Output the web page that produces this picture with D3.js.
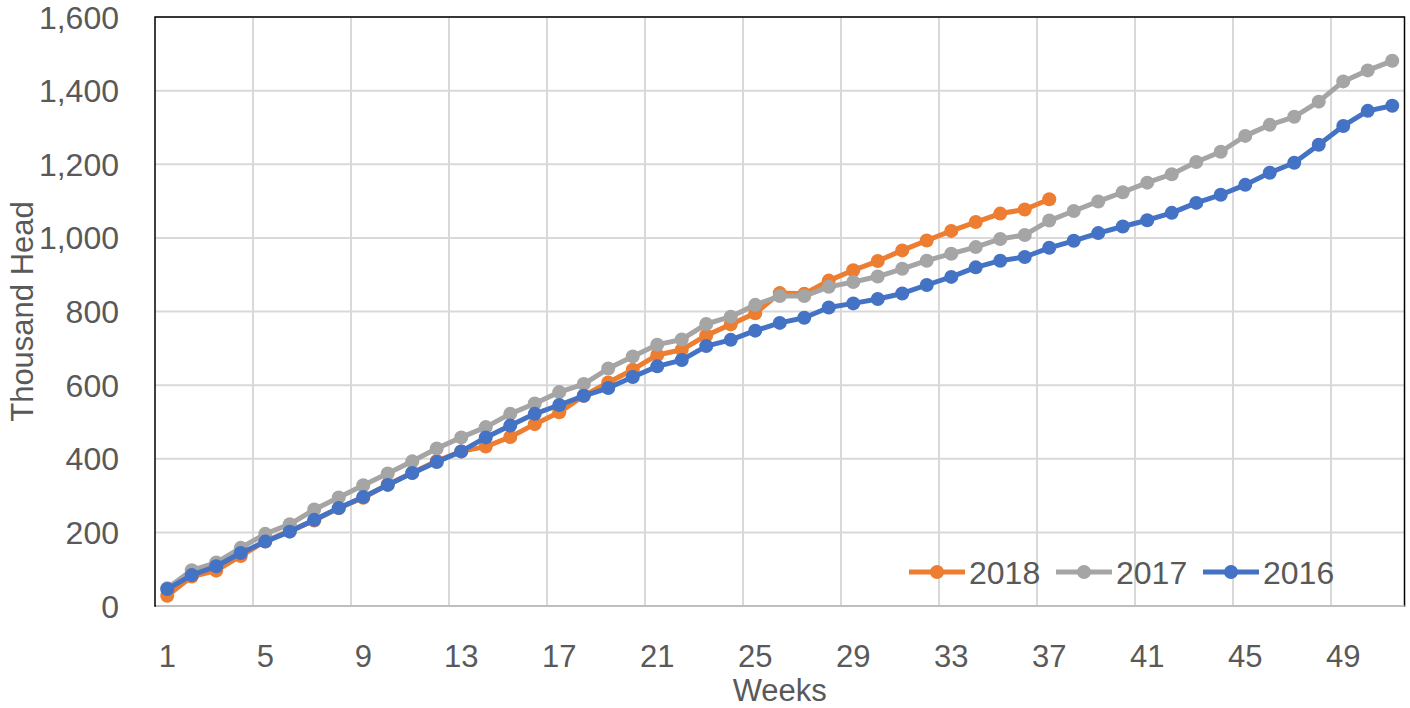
<!DOCTYPE html>
<html>
<head>
<meta charset="utf-8">
<script src="https://cdn.jsdelivr.net/npm/d3@7"></script>
<style>
body { margin: 0; background: #fff; }
text { font-family: "Liberation Sans", Arial, sans-serif; fill: #595959; }
</style>
</head>
<body>
<svg width="1410" height="708"></svg>
<script>
var weeks = d3.range(1, 52);

var s2018 = [28, 80, 96, 136, 176, 204, 232, 266, 294, 330, 362, 394, 420, 433, 459, 494, 526, 571, 607, 642,
	682, 696, 735, 765, 795, 850, 848, 884, 912, 937, 966, 993, 1019, 1043, 1066, 1077, 1105];

var s2017 = [48, 97, 118, 158, 196, 222, 262, 295, 328, 360, 393, 428, 458, 486, 522, 550, 581, 603, 645, 678,
	710, 724, 766, 786, 818, 842, 842, 867, 880, 895, 916, 938, 957, 975, 997, 1008, 1047, 1073, 1099, 1124,
	1150, 1173, 1206, 1234, 1277, 1307, 1329, 1370, 1425, 1455, 1481];

var s2016 = [46, 84, 108, 144, 175, 202, 234, 266, 296, 329, 361, 391, 420, 458, 490, 522, 546, 571, 592, 622,
	651, 668, 706, 723, 748, 769, 783, 811, 822, 834, 849, 872, 894, 920, 938, 948, 973, 992, 1013, 1031,
	1048, 1068, 1095, 1117, 1144, 1177, 1204, 1253, 1304, 1345, 1359];

var seriesNames = ["2018", "2017", "2016"];
var seriesColors = ["#ED7D31", "#A5A5A5", "#4472C4"];
var yTicks = [0, 200, 400, 600, 800, 1000, 1200, 1400, 1600];
var xTickLabels = [1, 5, 9, 13, 17, 21, 25, 29, 33, 37, 41, 45, 49];

var svg = d3.select("svg"),
	plotLeft = 155, plotRight = 1404.5, plotTop = 17, plotBottom = 606;

var x = d3.scaleBand().domain(weeks).range([plotLeft, plotRight]).padding(0);
var y = d3.scaleLinear().domain([0, 1600]).range([plotBottom, plotTop]);
var cx = function(w) { return x(w) + x.bandwidth() / 2; };

// gridlines
svg.append("g").selectAll("line")
	.data(yTicks.slice(1))
	.enter().append("line")
	.attr("x1", plotLeft).attr("x2", plotRight)
	.attr("y1", function(d) { return y(d); }).attr("y2", function(d) { return y(d); })
	.attr("stroke", "#D9D9D9").attr("stroke-width", 2);

svg.append("g").selectAll("line")
	.data(xTickLabels.slice(1))
	.enter().append("line")
	.attr("x1", function(d) { return x(d); }).attr("x2", function(d) { return x(d); })
	.attr("y1", plotTop).attr("y2", plotBottom)
	.attr("stroke", "#D9D9D9").attr("stroke-width", 2);

// plot frame
svg.append("rect")
	.attr("x", plotLeft).attr("y", plotTop)
	.attr("width", plotRight - plotLeft).attr("height", plotBottom - plotTop)
	.attr("fill", "none").attr("stroke", "#000").attr("stroke-width", 1.5);
svg.append("line")
	.attr("x1", plotLeft + 1).attr("x2", plotRight).attr("y1", plotBottom).attr("y2", plotBottom)
	.attr("stroke", "#BFBFBF").attr("stroke-width", 2);

// y axis labels
svg.append("g").selectAll("text")
	.data(yTicks)
	.enter().append("text")
	.attr("x", 119)
	.attr("y", function(d) { return y(d); })
	.attr("dy", "0.36em")
	.attr("text-anchor", "end")
	.style("font-size", "32px")
	.text(function(d) { return d3.format(",")(d); });

// x axis labels
svg.append("g").selectAll("text")
	.data(xTickLabels)
	.enter().append("text")
	.attr("x", function(d) { return cx(d); })
	.attr("y", 656)
	.attr("dy", "0.36em")
	.attr("text-anchor", "middle")
	.style("font-size", "31px")
	.text(function(d) { return d; });

svg.append("text")
	.attr("x", (plotLeft + plotRight) / 2).attr("y", 690)
	.attr("dy", "0.36em")
	.attr("text-anchor", "middle")
	.style("font-size", "31px")
	.text("Weeks");

svg.append("text")
	.attr("transform", "translate(22," + ((plotTop + plotBottom) / 2) + ") rotate(-90)")
	.attr("dy", "0.36em")
	.attr("text-anchor", "middle")
	.style("font-size", "31px")
	.text("Thousand Head");

// series, 2016 drawn last so it sits on top
var series = [s2018, s2017, s2016];
var line = d3.line()
	.x(function(d, i) { return cx(weeks[i]); })
	.y(function(d) { return y(d); });

series.forEach(function(data, k) {
	var g = svg.append("g");
	g.append("path")
		.attr("d", line(data))
		.attr("fill", "none")
		.attr("stroke", seriesColors[k])
		.attr("stroke-width", 5)
		.attr("stroke-linejoin", "round");
	g.selectAll("circle")
		.data(data)
		.enter().append("circle")
		.attr("cx", function(d, i) { return cx(weeks[i]); })
		.attr("cy", function(d) { return y(d); })
		.attr("r", 7)
		.attr("fill", seriesColors[k]);
});

// legend
var legend = svg.append("g").selectAll("g")
	.data(seriesNames)
	.enter().append("g")
	.attr("transform", function(d, i) { return "translate(" + [909, 1056, 1203][i] + ",572)"; });
legend.append("line")
	.attr("x1", 0).attr("x2", 56)
	.attr("stroke", function(d, i) { return seriesColors[i]; })
	.attr("stroke-width", 5);
legend.append("circle")
	.attr("cx", 28).attr("r", 7)
	.attr("fill", function(d, i) { return seriesColors[i]; });
legend.append("text")
	.attr("x", 60)
	.attr("dy", "0.36em")
	.style("font-size", "32px")
	.text(function(d) { return d; });
</script>
</body>
</html>
